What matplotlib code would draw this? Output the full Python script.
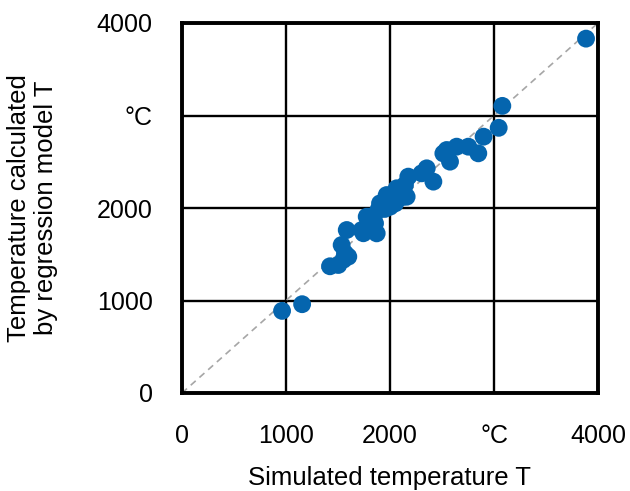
import matplotlib

matplotlib.use("Agg")
import matplotlib.pyplot as plt

# simulated vs regression-model temperatures (degC)
simulated = [962, 1155, 1423, 1503, 1535, 1551, 1567, 1584, 1599, 1728, 1744,
             1776, 1808, 1840, 1856, 1872, 1888, 1904, 1920, 1950, 1968, 2000,
             2032, 2050, 2064, 2080, 2100, 2128, 2144, 2160, 2176, 2304, 2353,
             2417, 2513, 2545, 2577, 2641, 2753, 2849, 2900, 3045, 3080, 3885]
predicted = [888, 960, 1370, 1384, 1600, 1440, 1510, 1762, 1474, 1762, 1727,
             1906, 1906, 1880, 1834, 1726, 1978, 2050, 2050, 1990, 2140, 2014,
             2122, 2050, 2213, 2100, 2180, 2122, 2249, 2122, 2339, 2375, 2429,
             2285, 2590, 2627, 2501, 2663, 2663, 2591, 2771, 2867, 3104, 3831]

ticks = [0, 1000, 2000, 3000, 4000]
tick_labels = ["0", "1000", "2000", "°C", "4000"]

plt.rcParams["font.family"] = ["Liberation Sans", "DejaVu Sans"]

fig = plt.figure(figsize=(6.3, 4.91), dpi=100)
ax = fig.add_axes([182 / 630, 1 - 393 / 491, 416 / 630, 370 / 491])

ax.plot([0, 4000], [0, 4000], linestyle=(0, (4, 3)), color="#a6a6a6",
        linewidth=1.2, zorder=2)
ax.scatter(simulated, predicted, s=165, color="#0565ae", edgecolors="none",
           zorder=3)

ax.set_xlim(0, 4000)
ax.set_ylim(0, 4000)
ax.set_xticks(ticks)
ax.set_yticks(ticks)
ax.set_xticklabels(tick_labels)
ax.set_yticklabels(tick_labels)
ax.tick_params(axis="x", length=0, pad=22, labelsize=18)
ax.tick_params(axis="y", length=0, pad=21, labelsize=18)

ax.grid(True, color="black", linewidth=1.7, zorder=1)
ax.set_axisbelow(True)
for spine in ax.spines.values():
    spine.set_linewidth(2.8)
    spine.set_color("black")

ax.set_xlabel("Simulated temperature T", fontsize=18.5, va="center")
ax.xaxis.set_label_coords(0.5, -0.23)
ax.set_ylabel("Temperature calculated\nby regression model T", fontsize=18.5,
              va="center", multialignment="center", linespacing=1.15)
ax.yaxis.set_label_coords(-0.36, 0.5)

fig.savefig("out.png", dpi=100)
